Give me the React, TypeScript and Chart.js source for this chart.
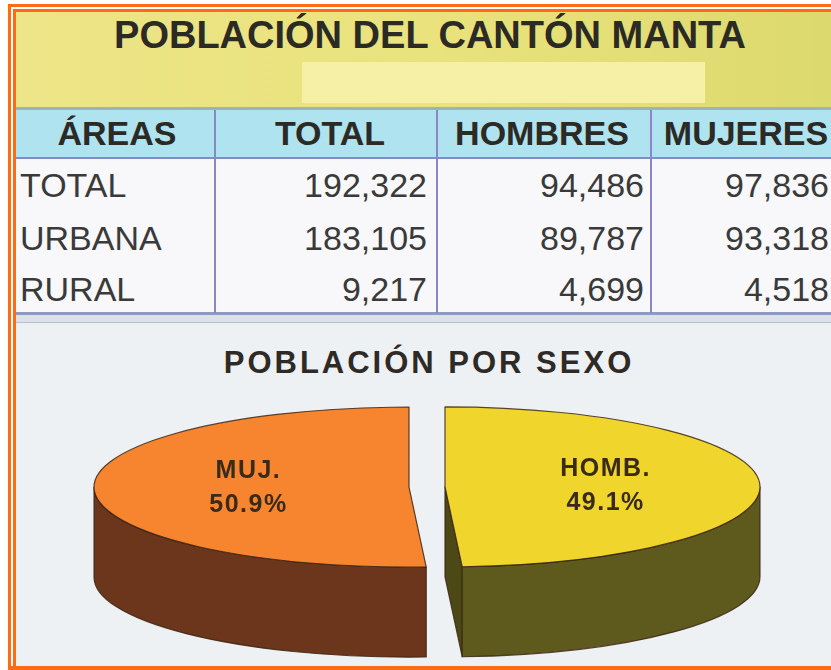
import React, { useEffect, useRef } from 'react';
import { Chart, registerables } from 'chart.js';

Chart.register(...registerables);

// ---- data ----
const TITLE = 'POBLACIÓN DEL CANTÓN MANTA';
const SUBTITLE = 'POBLACIÓN POR SEXO';
const HEADERS = ['ÁREAS', 'TOTAL', 'HOMBRES', 'MUJERES'];
const AREAS = ['TOTAL', 'URBANA', 'RURAL'];
const TOTALS = [192322, 183105, 9217];
const HOMBRES = [94486, 89787, 4699];
const MUJERES = [97836, 93318, 4518];
const SLICE_LABELS = ['HOMB.', 'MUJ.'];
const SLICE_VALUES = [HOMBRES[0], MUJERES[0]];
const TOP_COLORS = ['#F0D62C', '#F7852F'];
const SIDE_COLORS = ['#5E5A1E', '#6C361C'];
const FACE_COLORS = ['#4C4917', '#5A2C16'];

const fmt = (n: number) => n.toLocaleString('en-US');

const FONT = '"Liberation Sans", Arial, Helvetica, sans-serif';

const pie3d = {
  id: 'pie3d',
  beforeDatasetsDraw(chart: any, _args: any, opts: any) {
    const { ctx } = chart;
    const meta = chart.getDatasetMeta(0);
    const k = opts.tilt;
    const D = opts.depth;
    const explode = opts.explode;
    const CY = opts.centerY;
    const values = chart.data.datasets[0].data as number[];
    const sum = values.reduce((a: number, b: number) => a + b, 0);
    const slices = meta.data.map((arc: any, i: number) => {
      const p = arc.getProps(['x', 'y', 'startAngle', 'endAngle', 'outerRadius'], true);
      const mid = (p.startAngle + p.endAngle) / 2;
      return {
        i,
        cx: p.x + Math.cos(mid) * explode,
        cy: CY + Math.sin(mid) * explode * k,
        R: p.outerRadius,
        s: p.startAngle,
        e: p.endAngle,
        mid,
        top: arc.options.backgroundColor,
      };
    });
    ctx.save();
    ctx.lineJoin = 'round';
    ctx.lineWidth = 1.2;
    ctx.strokeStyle = opts.edgeColor;
    for (const sl of slices) {
      const ry = sl.R * k;
      const pt = (t: number) => [sl.cx + sl.R * Math.cos(t), sl.cy + ry * Math.sin(t)];
      const faces: number[] = [];
      if (Math.cos(sl.s) < -1e-3) faces.push(sl.s);
      if (Math.cos(sl.e) > 1e-3) faces.push(sl.e);
      for (const t of faces) {
        const [x1, y1] = pt(t);
        ctx.beginPath();
        ctx.moveTo(sl.cx, sl.cy);
        ctx.lineTo(x1, y1);
        ctx.lineTo(x1, y1 + D);
        ctx.lineTo(sl.cx, sl.cy + D);
        ctx.closePath();
        ctx.fillStyle = opts.faceColors[sl.i];
        ctx.fill();
        ctx.stroke();
      }
      for (const off of [-2 * Math.PI, 0, 2 * Math.PI]) {
        const a = Math.max(sl.s, off);
        const b = Math.min(sl.e, off + Math.PI);
        if (b - a > 1e-4) {
          ctx.beginPath();
          ctx.ellipse(sl.cx, sl.cy, sl.R, ry, 0, a, b, false);
          ctx.ellipse(sl.cx, sl.cy + D, sl.R, ry, 0, b, a, true);
          ctx.closePath();
          ctx.fillStyle = opts.sideColors[sl.i];
          ctx.fill();
          ctx.stroke();
        }
      }
      ctx.beginPath();
      ctx.moveTo(sl.cx, sl.cy);
      ctx.ellipse(sl.cx, sl.cy, sl.R, ry, 0, sl.s, sl.e, false);
      ctx.closePath();
      ctx.fillStyle = sl.top;
      ctx.fill();
      ctx.stroke();
    }
    // labels
    ctx.fillStyle = opts.labelColor;
    ctx.font = `bold ${opts.labelSize}px ${FONT}`;
    try { (ctx as any).letterSpacing = '1.5px'; } catch (e) {}
    ctx.textAlign = 'center';
    ctx.textBaseline = 'middle';
    for (const sl of slices) {
      const lx = sl.cx + Math.cos(sl.mid) * sl.R * opts.labelRadius;
      const ly = sl.cy + Math.sin(sl.mid) * sl.R * opts.labelRadius * k;
      const pct = ((values[sl.i] / sum) * 100).toFixed(1) + '%';
      ctx.fillText(chart.data.labels[sl.i], lx, ly - 17);
      ctx.fillText(pct, lx, ly + 17);
    }
    ctx.restore();
    return false;
  },
};

function PieChart() {
  const ref = useRef<HTMLCanvasElement | null>(null);
  useEffect(() => {
    if (!ref.current) return;
    const chart = new Chart(ref.current, {
      type: 'pie',
      data: {
        labels: SLICE_LABELS,
        datasets: [
          {
            data: SLICE_VALUES,
            backgroundColor: TOP_COLORS,
            borderWidth: 0,
            radius: 315,
          } as any,
        ],
      },
      options: {
        animation: false,
        responsive: false,
        events: [],
        layout: { padding: { left: 23 } },
        plugins: {
          legend: { display: false },
          tooltip: { enabled: false },
          pie3d: {
            tilt: 0.254,
            depth: 90,
            explode: 18,
            centerY: 487,
            sideColors: SIDE_COLORS,
            faceColors: FACE_COLORS,
            edgeColor: 'rgba(60,38,20,0.85)',
            labelColor: '#3A2A18',
            labelSize: 25,
            labelRadius: 0.51,
          },
        } as any,
      },
      plugins: [pie3d as any],
    });
    return () => chart.destroy();
  }, []);
  return (
    <canvas
      ref={ref}
      width={831}
      height={670}
      style={{ position: 'absolute', left: 0, top: 0, width: 831, height: 670 }}
    />
  );
}

const abs = (s: React.CSSProperties): React.CSSProperties => ({ position: 'absolute', ...s });

function CenterText(props: { text: string; cx: number; cy: number; size: number; bold?: boolean; color?: string; spacing?: number; w?: number }) {
  const w = props.w ?? 500;
  const h = props.size * 1.3;
  return (
    <div
      style={abs({
        left: props.cx - w / 2,
        top: props.cy - h / 2,
        width: w,
        height: h,
        lineHeight: `${h}px`,
        textAlign: 'center',
        fontSize: props.size,
        fontWeight: props.bold ? 'bold' : 'normal',
        color: props.color ?? '#2B2A24',
        letterSpacing: props.spacing ?? 0,
        whiteSpace: 'nowrap',
      })}
    >
      {props.text}
    </div>
  );
}

function RightText(props: { text: string; right: number; cy: number; size: number }) {
  const h = props.size * 1.3;
  return (
    <div
      style={abs({
        left: props.right - 300,
        top: props.cy - h / 2,
        width: 300,
        height: h,
        lineHeight: `${h}px`,
        textAlign: 'right',
        fontSize: props.size,
        color: '#3A3A3A',
        whiteSpace: 'nowrap',
      })}
    >
      {props.text}
    </div>
  );
}

export default function App() {
  const headerCenters = [117, 330, 542, 746];
  const rowCenters = [185, 238, 289];
  const colRights = [427, 644, 829];
  const colLines = [214, 436, 650];
  const cols = [TOTALS, HOMBRES, MUJERES];
  const orange = '#FF6A14';
  return (
    <div
      style={abs({
        left: 0,
        top: 0,
        width: 831,
        height: 670,
        overflow: 'hidden',
        background: '#FFFFFF',
        fontFamily: FONT,
      })}
    >
      {/* content backgrounds */}
      <div style={abs({ left: 16, top: 12, width: 815, height: 97, background: 'linear-gradient(90deg, #EDE587 0%, #E9E27C 55%, #DCD96E 100%)' })} />
      <div style={abs({ left: 302, top: 62, width: 403, height: 41, background: '#F6F0A6' })} />
      <div style={abs({ left: 16, top: 107, width: 815, height: 3, background: '#9FB2B6' })} />
      <div style={abs({ left: 16, top: 110, width: 815, height: 47, background: '#AEE3EF' })} />
      <div style={abs({ left: 16, top: 157, width: 815, height: 2, background: '#8C88C6' })} />
      <div style={abs({ left: 16, top: 159, width: 815, height: 153, background: '#F8F8FA' })} />
      <div style={abs({ left: 16, top: 312, width: 815, height: 3, background: '#8E9AC2' })} />
      <div style={abs({ left: 16, top: 315, width: 815, height: 7, background: '#DCE2EA' })} />
      <div style={abs({ left: 16, top: 322, width: 815, height: 1, background: '#B6BFD0' })} />
      <div style={abs({ left: 16, top: 323, width: 815, height: 343, background: '#EEF1F3' })} />
      {colLines.map((x, i) => (
        <div key={i} style={abs({ left: x, top: 110, width: 2, height: 203, background: '#8E84C8' })} />
      ))}

      {/* orange frame */}
      <div style={abs({ left: 8, top: 4, width: 823, height: 3, background: orange })} />
      <div style={abs({ left: 8, top: 4, width: 3, height: 666, background: orange })} />
      <div style={abs({ left: 13, top: 9, width: 818, height: 3, background: orange })} />
      <div style={abs({ left: 13, top: 9, width: 3, height: 657, background: orange })} />
      <div style={abs({ left: 8, top: 666, width: 823, height: 4, background: orange })} />

      {/* texts */}
      <CenterText text={TITLE} cx={430} cy={36} size={38} bold w={800} />
      {HEADERS.map((h, i) => (
        <CenterText key={h} text={h} cx={headerCenters[i]} cy={133} size={34} bold w={260} />
      ))}
      {AREAS.map((a, r) => (
        <div
          key={a}
          style={abs({
            left: 20,
            top: rowCenters[r] - 22,
            height: 44,
            lineHeight: '44px',
            fontSize: 34,
            color: '#3A3A3A',
            whiteSpace: 'nowrap',
          })}
        >
          {a}
        </div>
      ))}
      {cols.map((col, c) =>
        col.map((v, r) => (
          <RightText key={`${c}-${r}`} text={fmt(v)} right={colRights[c]} cy={rowCenters[r]} size={34} />
        ))
      )}
      <CenterText text={SUBTITLE} cx={429} cy={363} size={31} bold spacing={3} w={600} color="#2E2A26" />

      <PieChart />
    </div>
  );
}
